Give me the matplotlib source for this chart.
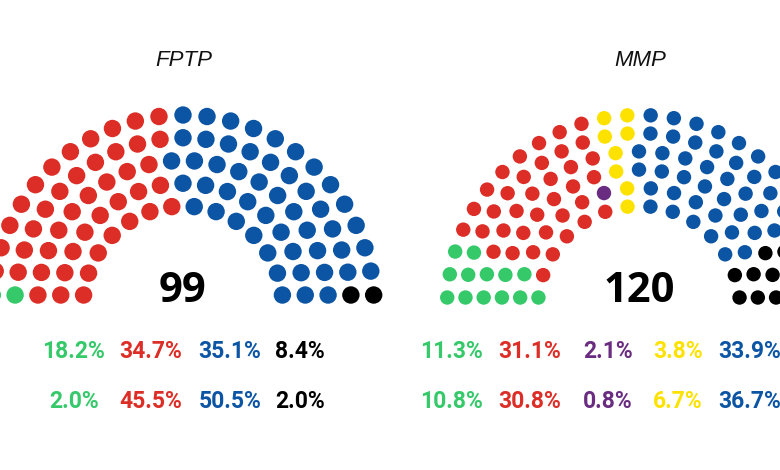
import numpy as np
import matplotlib
matplotlib.use("Agg")
import matplotlib.pyplot as plt
from matplotlib.patches import Circle
from matplotlib.collections import PatchCollection

# ---------------- data ----------------
fptp_title = "FPTP"
fptp_seats = [2, 45, 50, 2]
fptp_colors = ["#35c96a", "#dc2e26", "#0c55a5", "#000000"]
fptp_votes_pct = ["18.2%", "34.7%", "35.1%", "8.4%"]
fptp_seats_pct = ["2.0%", "45.5%", "50.5%", "2.0%"]

mmp_title = "MMP"
mmp_seats = [13, 37, 1, 8, 44, 17]
mmp_colors = ["#35c96a", "#dc2e26", "#6a2c80", "#fde200", "#0c55a5", "#000000"]
mmp_votes_pct = ["11.3%", "31.1%", "2.1%", "3.8%", "33.9%"]
mmp_seats_pct = ["10.8%", "30.8%", "0.8%", "6.7%", "36.7%"]

# ---------------- layout helpers ----------------
def seat_positions(row_counts, cx, cy, r_in, r_out, margin):
    n = len(row_counts)
    radii = np.linspace(r_in, r_out, n)
    seats = []
    for R, J in zip(radii, row_counts):
        d = margin / R
        for j in range(J):
            th = np.pi - d - j * (np.pi - 2 * d) / (J - 1)
            seats.append((th, cx + R * np.cos(th), cy - R * np.sin(th)))
    seats.sort(key=lambda s: -s[0])
    return seats


def draw_hemicycle(ax, seats_per_party, colors, row_counts, cx, cy,
                   r_in, r_out, margin, dot_r):
    pos = seat_positions(row_counts, cx, cy, r_in, r_out, margin)
    patches, cols = [], []
    k = 0
    for n, c in zip(seats_per_party, colors):
        for _ in range(n):
            _, x, y = pos[k]
            patches.append(Circle((x, y), dot_r))
            cols.append(c)
            k += 1
    pc = PatchCollection(patches, facecolors=cols, edgecolors="none")
    ax.add_collection(pc)


fig = plt.figure(figsize=(7.8, 4.7), dpi=100)
ax = fig.add_axes([0, 0, 1, 1])
ax.set_xlim(0, 780)
ax.set_ylim(470, 0)
ax.axis("off")

# FPTP hemicycle
draw_hemicycle(ax, fptp_seats, fptp_colors, [14, 17, 20, 23, 25],
               cx=183, cy=306, r_in=100, r_out=191, margin=11, dot_r=8.7)
# MMP hemicycle
draw_hemicycle(ax, mmp_seats, mmp_colors, [14, 16, 19, 21, 24, 26],
               cx=639, cy=307, r_in=101, r_out=192, margin=9.5, dot_r=7.2)

title_font = dict(family="Liberation Sans", style="italic", size=16)
ax.text(184, 66, fptp_title, ha="center", va="baseline", color="#111111", **title_font)
ax.text(640, 66, mmp_title, ha="center", va="baseline", color="#111111", **title_font)

num_font = dict(family="Open Sans", weight="bold", size=30)
ax.text(183, 302, str(sum(fptp_seats)), ha="center", va="baseline", color="black", **num_font)
ax.text(639, 302, str(sum(mmp_seats)), ha="center", va="baseline", color="black", **num_font)

pct_font = dict(family="Roboto", weight="bold", size=16.5)
fptp_x = [74, 151, 230, 300]
for x, c, v, s in zip(fptp_x, fptp_colors, fptp_votes_pct, fptp_seats_pct):
    ax.text(x, 358, v, ha="center", va="baseline", color=c, **pct_font)
    ax.text(x, 408, s, ha="center", va="baseline", color=c, **pct_font)

mmp_x = [452, 530, 608, 678, 750]
for x, c, v, s in zip(mmp_x, mmp_colors, mmp_votes_pct, mmp_seats_pct):
    ax.text(x, 358, v, ha="center", va="baseline", color=c, **pct_font)
    ax.text(x, 408, s, ha="center", va="baseline", color=c, **pct_font)

fig.savefig("out.png", dpi=100, facecolor="white")
